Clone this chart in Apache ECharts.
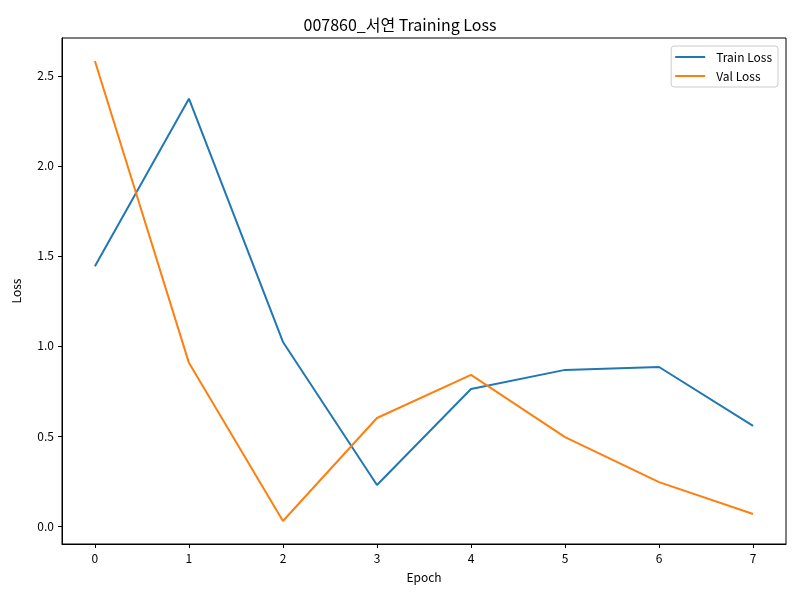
<!DOCTYPE html>
<html>
<head>
<meta charset="UTF-8">
<title>Training Loss</title>
<style>
  html, body { margin: 0; padding: 0; background: #fff; }
  #chart { width: 800px; height: 600px; }
</style>
</head>
<body>
<div id="chart"></div>
<script src="https://cdn.jsdelivr.net/npm/echarts@6/dist/echarts.min.js"></script>
<script>
  var epochs = [0, 1, 2, 3, 4, 5, 6, 7];
  var trainLoss = [1.443, 2.373, 1.022, 0.228, 0.761, 0.867, 0.883, 0.556];
  var valLoss = [2.582, 0.906, 0.028, 0.600, 0.839, 0.494, 0.244, 0.067];
  var yTicks = [0, 0.5, 1.0, 1.5, 2.0, 2.5];

  function pairs(ys) {
    return epochs.map(function (x, i) { return [x, ys[i]]; });
  }

  // matplotlib style 5% margins
  var allY = trainLoss.concat(valLoss);
  var yMin = Math.min.apply(null, allY), yMax = Math.max.apply(null, allY);
  var yPad = (yMax - yMin) * 0.05;
  var xPad = (epochs[epochs.length - 1] - epochs[0]) * 0.05;

  var font = '"Noto Sans CJK KR", "Noto Sans", sans-serif';
  var chart = echarts.init(document.getElementById('chart'));
  chart.setOption({
    animation: false,
    textStyle: { fontFamily: font },
    title: {
      text: '007860_서연 Training Loss',
      left: 'center',
      top: 12,
      textStyle: { fontSize: 16, fontWeight: 'normal', color: '#000', fontFamily: font }
    },
    legend: {
      right: 22,
      top: 46,
      orient: 'vertical',
      itemWidth: 30,
      itemHeight: 2,
      itemGap: 7,
      padding: [5, 6, 5, 4],
      borderColor: '#ccc',
      borderWidth: 1,
      borderRadius: 3,
      icon: 'rect',
      textStyle: { fontSize: 12, color: '#000', padding: [0, 0, 0, 6] },
      data: ['Train Loss', 'Val Loss']
    },
    grid: {
      left: 62, right: 14, top: 38, bottom: 56,
      show: true, borderColor: '#000', borderWidth: 1, backgroundColor: 'transparent'
    },
    xAxis: {
      type: 'value',
      min: epochs[0] - xPad,
      max: epochs[epochs.length - 1] + xPad,
      name: 'Epoch',
      nameLocation: 'middle',
      nameGap: 27,
      nameTextStyle: { fontSize: 12, color: '#000' },
      splitLine: { show: false },
      axisLine: { onZero: false, lineStyle: { color: '#000', width: 1 } },
      axisTick: { customValues: epochs, length: 4, lineStyle: { color: '#000' } },
      axisLabel: { customValues: epochs, fontSize: 12, color: '#000', margin: 8 }
    },
    yAxis: {
      type: 'value',
      min: yMin - yPad,
      max: yMax + yPad,
      name: 'Loss',
      nameLocation: 'middle',
      nameGap: 40,
      nameTextStyle: { fontSize: 12, color: '#000' },
      splitLine: { show: false },
      axisLine: { show: true, onZero: false, lineStyle: { color: '#000', width: 1 } },
      axisTick: { show: true, customValues: yTicks, length: 4, lineStyle: { color: '#000' } },
      axisLabel: {
        customValues: yTicks, fontSize: 12, color: '#000', margin: 8,
        formatter: function (v) { return v.toFixed(1); }
      }
    },
    series: [
      {
        name: 'Train Loss',
        type: 'line',
        data: pairs(trainLoss),
        showSymbol: false,
        color: '#1f77b4',
        lineStyle: { width: 2, color: '#1f77b4' }
      },
      {
        name: 'Val Loss',
        type: 'line',
        data: pairs(valLoss),
        showSymbol: false,
        color: '#ff7f0e',
        lineStyle: { width: 2, color: '#ff7f0e' }
      }
    ]
  });
</script>
</body>
</html>
